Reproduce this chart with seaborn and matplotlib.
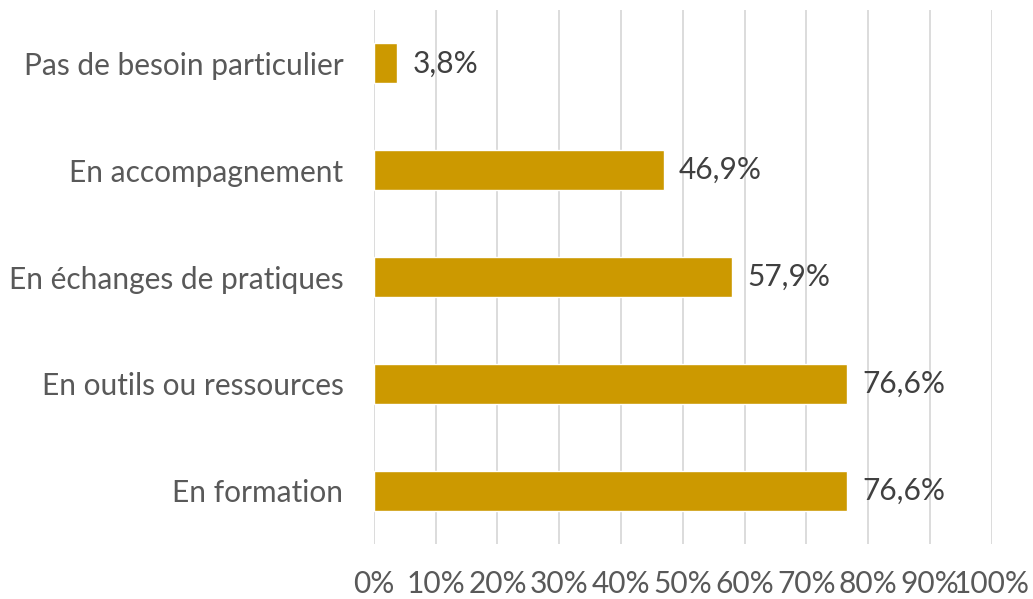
import matplotlib
matplotlib.use('Agg')
import matplotlib.pyplot as plt
import seaborn as sns
import pandas as pd

# values
categories = ["Pas de besoin particulier", "En accompagnement", "En échanges de pratiques",
              "En outils ou ressources", "En formation"]
values = [3.8, 46.9, 57.9, 76.6, 76.6]
xticks = list(range(0, 101, 10))

df = pd.DataFrame({"categorie": categories, "pct": values})

sns.set_style("white")
plt.rcParams['font.family'] = ['Lato', 'DejaVu Sans']

fig = plt.figure(figsize=(10.33, 5.99), dpi=100)
ax = fig.add_axes([0.362, 0.0918, 0.598, 0.8915])

sns.barplot(data=df, y="categorie", x="pct", orient="h", color="#CC9900",
            saturation=1, width=0.375, ax=ax, order=categories)

ax.set_xlim(0, 100)
ax.set_xticks(xticks)
ax.set_xticklabels([f"{t}%" for t in xticks])
ax.xaxis.grid(True, color="#D9D9D9", linewidth=1.3)
ax.set_axisbelow(True)
for s in ax.spines.values():
    s.set_visible(False)
ax.tick_params(axis='x', length=0, pad=19, labelsize=21.5, labelcolor="#595959")
ax.tick_params(axis='y', length=0, pad=22, labelsize=21.5, labelcolor="#595959")
ax.set_xlabel("")
ax.set_ylabel("")

for p, v in zip(ax.patches, values):
    ax.annotate(f"{v:.1f}%".replace(".", ","),
                (p.get_width(), p.get_y() + p.get_height() / 2),
                xytext=(11, 0), textcoords="offset points",
                ha="left", va="center", fontsize=21.5, color="#404040")

fig.savefig("out.png", dpi=100)
